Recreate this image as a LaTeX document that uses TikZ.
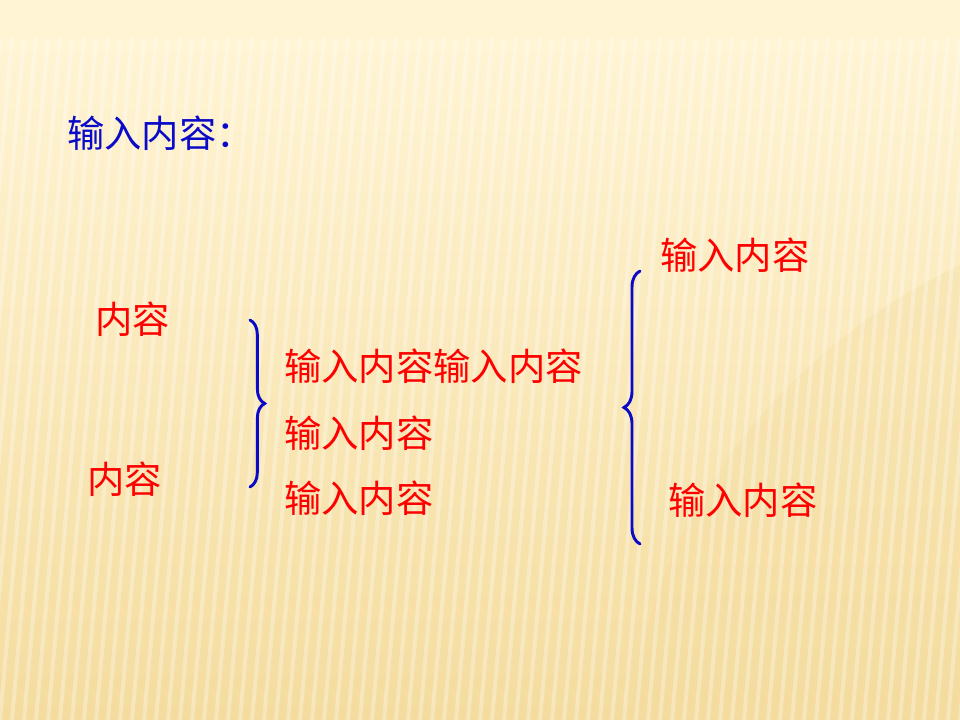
\documentclass[tikz,border=0pt]{standalone}
\usepackage{fontspec}
\newfontfamily\cjk{Noto Sans CJK SC}
\usetikzlibrary{decorations.pathreplacing}
\definecolor{slidered}{HTML}{FF0000}
\definecolor{slideblue}{HTML}{0A0AC8}
\definecolor{paperTop}{HTML}{FFF4D4}
\definecolor{paperBot}{HTML}{F4DC9E}
\tikzset{
  label text/.style={anchor=west, inner sep=0pt, text=slidered, font=\cjk\fontsize{28pt}{34pt}\selectfont},
  brace line/.style={decorate, decoration={brace, amplitude=#1}, line width=2.2pt, slideblue, line cap=round},
}
\begin{document}
\begin{tikzpicture}[x=0.75pt, y=-0.75pt]
\useasboundingbox (0,0) rectangle (960,720);
% paper
\fill[paperTop] (0,0) rectangle (960,38);
\shade[top color=paperTop, bottom color=paperBot] (0,38) rectangle (960,720);
\fill[paperBot, opacity=0.3] (1250,760) ellipse (620 and 560);
\begin{scope}
  \clip (0,38) rectangle (960,720);
  \foreach \s in {-120,-108,...,1000} \draw[white, opacity=0.3, line width=3pt] (\s,720) -- (\s+60,38);
\end{scope}
% texts
\node[label text, text=slideblue] (title) at (67,133) {输入内容：};
\node[label text] (top) at (95,319) {内容};
\node[label text] (bottom) at (87,479) {内容};
\node[label text] (rowA) at (284,366) {输入内容输入内容};
\node[label text] (rowB) at (284,433) {输入内容};
\node[label text] (rowC) at (284,498) {输入内容};
\node[label text] (upper) at (660,255) {输入内容};
\node[label text] (lower) at (668,500) {输入内容};
% braces
\coordinate (b1top) at (250,320); \coordinate (b1bot) at (250,487);
\draw[brace line=11pt] (b1top) -- (b1bot);
\coordinate (b2top) at (640,271); \coordinate (b2bot) at (640,544);
\draw[brace line=12pt] (b2bot) -- (b2top);
\end{tikzpicture}
\end{document}
